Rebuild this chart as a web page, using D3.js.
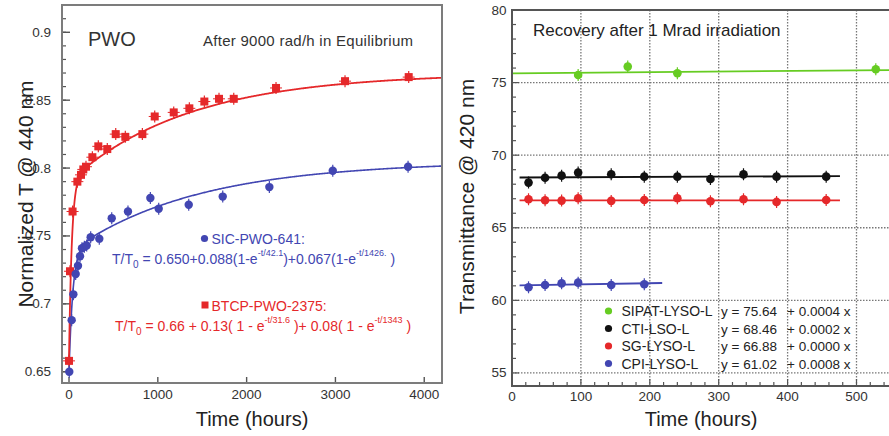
<!DOCTYPE html>
<html><head><meta charset="utf-8">
<script src="https://cdn.jsdelivr.net/npm/d3@7"></script>
<style>
html,body{margin:0;padding:0;background:#fff;}
svg{display:block;font-family:"Liberation Sans",Arial,sans-serif;}
</style></head>
<body>
<svg id="chart" width="889" height="436"></svg>
<script>
// ---------- Left panel data (PWO) ----------
const btcpTime = [0, 11, 40, 94, 135, 161, 191, 263, 330, 431, 526, 634, 826, 965, 1179, 1355, 1524, 1689, 1855, 2331, 3108, 3825];
const btcpValue = [0.658, 0.724, 0.768, 0.790, 0.795, 0.799, 0.801, 0.808, 0.816, 0.814, 0.825, 0.823, 0.825, 0.838, 0.841, 0.844, 0.849, 0.851, 0.851, 0.859, 0.864, 0.867];
const sicTime = [3, 30, 49, 75, 101, 124, 146, 173, 199, 244, 341, 481, 664, 916, 1010, 1348, 1731, 2256, 2970, 3818];
const sicValue = [0.650, 0.688, 0.707, 0.722, 0.728, 0.735, 0.741, 0.742, 0.743, 0.749, 0.748, 0.763, 0.768, 0.778, 0.770, 0.773, 0.779, 0.786, 0.798, 0.801];
// fit parameters printed on the chart: a + b(1-e^{-t/tau1}) + c(1-e^{-t/tau2})
const sicFitParams = [0.650, 0.088, 42.1, 0.067, 1426];
const btcpFitParams = [0.66, 0.13, 31.6, 0.08, 1343];
const leftXTicks = [0, 1000, 2000, 3000, 4000];
const leftYTicks = [0.65, 0.7, 0.75, 0.8, 0.85, 0.9];
const leftYTickLabels = ["0.65", "0.7", "0.75", "0.8", "0.85", "0.9"];

// ---------- Right panel data (LYSO) ----------
const sipatTime = [96, 168, 240, 528];
const sipatValue = [75.52, 76.10, 75.64, 75.92];
const ctiTime = [24, 48, 72, 96, 144, 192, 240, 288, 336, 384, 456];
const ctiValue = [68.11, 68.45, 68.59, 68.80, 68.69, 68.52, 68.52, 68.36, 68.68, 68.52, 68.52];
const sgTime = [24, 48, 72, 96, 144, 192, 240, 288, 336, 384, 456];
const sgValue = [66.96, 66.89, 66.87, 67.03, 66.85, 66.91, 67.03, 66.83, 66.96, 66.78, 66.91];
const cpiTime = [24, 48, 72, 96, 144, 192];
const cpiValue = [60.90, 61.06, 61.17, 61.22, 61.06, 61.11];
const legendNames = ["SIPAT-LYSO-L", "CTI-LSO-L", "SG-LYSO-L", "CPI-LYSO-L"];
const fitIntercepts = [75.64, 68.46, 66.88, 61.02];
const fitSlopes = [0.0004, 0.0002, 0.0000, 0.0008];
const fitStart = [0, 11, 11, 11];
const fitEnd = [560, 476, 476, 218];
const rightXTicks = [0, 100, 200, 300, 400, 500];
const rightYTicks = [55, 60, 65, 70, 75, 80];

const RED = "#e5282a", BLUE = "#4246b2", GREEN = "#66cc22", BLACK = "#111111";
const svg = d3.select("#chart");

// ======================= LEFT PANEL =======================
const L = {x0: 62, x1: 442, y0: 5, y1: 383};
const xL = d3.scaleLinear().domain([-79, 4200]).range([L.x0, L.x1]);
const yL = d3.scaleLinear().domain([0.6417, 0.9201]).range([L.y1, L.y0]);

svg.append("clipPath").attr("id", "clipL").append("rect")
  .attr("x", L.x0).attr("y", L.y0).attr("width", L.x1 - L.x0).attr("height", L.y1 - L.y0);

// ticks (inside)
const gL = svg.append("g");
gL.selectAll(".yminor").data(d3.range(0.65, 0.921, 0.01)).join("line")
  .attr("x1", L.x0).attr("x2", L.x0 + 4)
  .attr("y1", d => yL(d)).attr("y2", d => yL(d))
  .attr("stroke", "#555").attr("stroke-width", 1.2);
gL.selectAll(".ymajor").data(leftYTicks).join("line")
  .attr("x1", L.x0).attr("x2", L.x0 + 8)
  .attr("y1", d => yL(d)).attr("y2", d => yL(d))
  .attr("stroke", "#555").attr("stroke-width", 1.4);
gL.selectAll(".ylab").data(leftYTicks).join("text")
  .attr("x", L.x0 - 11).attr("y", d => yL(d) + 4.5)
  .attr("text-anchor", "end").attr("font-size", 13.5).attr("fill", "#333")
  .text((d, i) => leftYTickLabels[i]);
gL.selectAll(".xmajor").data(leftXTicks).join("line")
  .attr("x1", d => xL(d)).attr("x2", d => xL(d))
  .attr("y1", L.y1).attr("y2", L.y1 - 6)
  .attr("stroke", "#555").attr("stroke-width", 1.4);
gL.selectAll(".xlab").data(leftXTicks).join("text")
  .attr("x", d => xL(d)).attr("y", 399)
  .attr("text-anchor", "middle").attr("font-size", 13.5).attr("fill", "#333")
  .text(d => d);

// fit curves
function pwoFit(p, t) { return p[0] + p[1] * (1 - Math.exp(-t / p[2])) + p[3] * (1 - Math.exp(-t / p[4])); }
const tSamples = d3.range(0, 20, 0.5).concat(d3.range(20, 300, 2)).concat(d3.range(300, 4250, 10));
const lineL = d3.line().x(d => xL(d[0])).y(d => yL(d[1]));
const curves = svg.append("g").attr("clip-path", "url(#clipL)");
curves.append("path").datum(tSamples.map(t => [t, pwoFit(sicFitParams, t)]))
  .attr("d", lineL).attr("fill", "none").attr("stroke", BLUE).attr("stroke-width", 1.6);
curves.append("path").datum(tSamples.map(t => [t, pwoFit(btcpFitParams, t)]))
  .attr("d", lineL).attr("fill", "none").attr("stroke", RED).attr("stroke-width", 1.8);

// data points
const sicData = sicTime.map((t, i) => [t, sicValue[i]]);
const btcpData = btcpTime.map((t, i) => [t, btcpValue[i]]);
const pts = svg.append("g").attr("clip-path", "url(#clipL)");
pts.selectAll(".eb1").data(btcpData).join("line")
  .attr("x1", d => xL(d[0])).attr("x2", d => xL(d[0]))
  .attr("y1", d => yL(d[1]) - 6).attr("y2", d => yL(d[1]) + 6)
  .attr("stroke", RED).attr("stroke-width", 1.2);
pts.selectAll(".eh1").data(btcpData).join("line")
  .attr("x1", d => xL(d[0]) - 6).attr("x2", d => xL(d[0]) + 6)
  .attr("y1", d => yL(d[1])).attr("y2", d => yL(d[1]))
  .attr("stroke", RED).attr("stroke-width", 1);
pts.selectAll(".sq").data(btcpData).join("rect")
  .attr("x", d => xL(d[0]) - 4).attr("y", d => yL(d[1]) - 4)
  .attr("width", 8).attr("height", 8).attr("fill", RED);
pts.selectAll(".eb2").data(sicData).join("line")
  .attr("x1", d => xL(d[0])).attr("x2", d => xL(d[0]))
  .attr("y1", d => yL(d[1]) - 6).attr("y2", d => yL(d[1]) + 6)
  .attr("stroke", BLUE).attr("stroke-width", 1.2);
pts.selectAll(".ci").data(sicData).join("circle")
  .attr("cx", d => xL(d[0])).attr("cy", d => yL(d[1])).attr("r", 4.2).attr("fill", BLUE);

// frame
svg.append("rect").attr("x", L.x0).attr("y", L.y0).attr("width", L.x1 - L.x0).attr("height", L.y1 - L.y0)
  .attr("fill", "none").attr("stroke", "#7c7c7c").attr("stroke-width", 2);

// texts
svg.append("text").attr("x", 88).attr("y", 46).attr("font-size", 20).attr("fill", "#333").text("PWO");
svg.append("text").attr("x", 203).attr("y", 46).attr("font-size", 15).attr("fill", "#333").attr("textLength", 210)
  .text("After 9000 rad/h in Equilibrium");

svg.append("circle").attr("cx", 204.5).attr("cy", 238.5).attr("r", 3.6).attr("fill", BLUE);
svg.append("text").attr("x", 211.5).attr("y", 243.5).attr("font-size", 14).attr("fill", BLUE).text("SIC-PWO-641:");
function eq(x, y, color, parts) {
  const t = svg.append("text").attr("x", x).attr("y", y).attr("font-size", 14).attr("fill", color);
  parts.forEach(p => {
    const s = t.append("tspan").text(p[0]);
    if (p[1] === "sub") s.attr("font-size", 10).attr("dy", 4);
    else if (p[1] === "sup") s.attr("font-size", 9).attr("dy", -8);
    else if (p[1] === "resetSub") s.attr("dy", -4);
    else if (p[1] === "resetSup") s.attr("dy", 8);
  });
  return t;
}
eq(112, 264, BLUE, [["T/T"], ["0", "sub"], [" = 0.650+0.088(1-e", "resetSub"], ["-t/42.1", "sup"],
  [")+0.067(1-e", "resetSup"], ["-t/1426.", "sup"], [" )", "resetSup"]]);

svg.append("rect").attr("x", 201.5).attr("y", 301.5).attr("width", 7).attr("height", 7).attr("fill", RED);
svg.append("text").attr("x", 211.5).attr("y", 311).attr("font-size", 14).attr("fill", RED).text("BTCP-PWO-2375:");
eq(115, 331, RED, [["T/T"], ["0", "sub"], [" = 0.66 + 0.13( 1 - e", "resetSub"], ["-t/31.6", "sup"],
  [" )+ 0.08( 1 - e", "resetSup"], ["-t/1343", "sup"], [" )", "resetSup"]]);

svg.append("text").attr("transform", "translate(33,194) rotate(-90)").attr("text-anchor", "middle")
  .attr("font-size", 21).attr("fill", "#222").text("Normalized T @ 440 nm");
svg.append("text").attr("x", 252).attr("y", 426).attr("text-anchor", "middle")
  .attr("font-size", 20).attr("fill", "#222").text("Time (hours)");

// ======================= RIGHT PANEL =======================
const R = {x0: 512, y0: 10, y1: 386};
const xR = d3.scaleLinear().domain([0, 560]).range([R.x0, R.x0 + 560 * 0.689]);
const yR = d3.scaleLinear().domain([54.1, 80]).range([R.y1, R.y0]);
const R_x1 = xR(560);

svg.append("clipPath").attr("id", "clipR").append("rect")
  .attr("x", R.x0).attr("y", R.y0).attr("width", R_x1 - R.x0).attr("height", R.y1 - R.y0);

const gR = svg.append("g");
// grid
gR.selectAll(".vg").data(rightXTicks.filter(d => d > 0)).join("line")
  .attr("x1", d => xR(d)).attr("x2", d => xR(d)).attr("y1", R.y0).attr("y2", R.y1)
  .attr("stroke", "#777").attr("stroke-width", 1.3).attr("stroke-dasharray", "1.5,1.5");
gR.selectAll(".hg").data(rightYTicks.filter(d => d < 80)).join("line")
  .attr("x1", R.x0).attr("x2", R_x1).attr("y1", d => yR(d)).attr("y2", d => yR(d))
  .attr("stroke", "#777").attr("stroke-width", 1.3).attr("stroke-dasharray", "1.5,1.5");
// ticks
gR.selectAll(".ymin").data(d3.range(55, 80, 1)).join("line")
  .attr("x1", R.x0).attr("x2", d => R.x0 + (d % 5 === 0 ? 7 : 4))
  .attr("y1", d => yR(d)).attr("y2", d => yR(d)).attr("stroke", "#555").attr("stroke-width", 1.2);
gR.selectAll(".xmin").data(d3.range(20, 560, 20)).join("line")
  .attr("x1", d => xR(d)).attr("x2", d => xR(d))
  .attr("y1", R.y1).attr("y2", d => R.y1 - (d % 100 === 0 ? 7 : 4)).attr("stroke", "#555").attr("stroke-width", 1.2);
gR.selectAll(".ylab").data(rightYTicks).join("text")
  .attr("x", R.x0 - 5.5).attr("y", d => yR(d) + 4.5).attr("text-anchor", "end")
  .attr("font-size", 13.5).attr("fill", "#333").text(d => d);
gR.selectAll(".xlab").data(rightXTicks).join("text")
  .attr("x", d => xR(d)).attr("y", 401).attr("text-anchor", "middle")
  .attr("font-size", 13.5).attr("fill", "#333").text(d => d);

const seriesColors = [GREEN, BLACK, RED, BLUE];
const seriesData = [
  sipatTime.map((t, i) => [t, sipatValue[i]]),
  ctiTime.map((t, i) => [t, ctiValue[i]]),
  sgTime.map((t, i) => [t, sgValue[i]]),
  cpiTime.map((t, i) => [t, cpiValue[i]])
];
const plotR = svg.append("g").attr("clip-path", "url(#clipR)");
const lineR = d3.line().x(d => xR(d[0])).y(d => yR(d[1]));
seriesData.forEach((data, k) => {
  const fitPts = [fitStart[k], fitEnd[k]].map(t => [t, fitIntercepts[k] + fitSlopes[k] * t]);
  plotR.append("path").datum(fitPts).attr("d", lineR).attr("fill", "none")
    .attr("stroke", seriesColors[k]).attr("stroke-width", 1.8);
  plotR.selectAll(".eb" + k).data(data).join("line")
    .attr("x1", d => xR(d[0])).attr("x2", d => xR(d[0]))
    .attr("y1", d => yR(d[1]) - 6).attr("y2", d => yR(d[1]) + 6)
    .attr("stroke", seriesColors[k]).attr("stroke-width", 1.2);
  plotR.selectAll(".pt" + k).data(data).join("circle")
    .attr("cx", d => xR(d[0])).attr("cy", d => yR(d[1])).attr("r", 4.3).attr("fill", seriesColors[k]);
});

svg.append("rect").attr("x", R.x0).attr("y", R.y0).attr("width", R_x1 - R.x0).attr("height", R.y1 - R.y0)
  .attr("fill", "none").attr("stroke", "#555").attr("stroke-width", 2);

svg.append("text").attr("x", 533).attr("y", 36).attr("font-size", 17).attr("fill", "#222")
  .text("Recovery after 1 Mrad irradiation");

// legend
const legY = [311, 328.5, 346, 363.5];
legendNames.forEach((name, k) => {
  svg.append("circle").attr("cx", 608.5).attr("cy", legY[k]).attr("r", 3.6).attr("fill", seriesColors[k]);
  svg.append("text").attr("x", 621.5).attr("y", legY[k] + 5).attr("font-size", 14).attr("fill", "#222").text(name);
  svg.append("text").attr("x", 721).attr("y", legY[k] + 5).attr("font-size", 13.5).attr("fill", "#222")
    .text("y = " + fitIntercepts[k].toFixed(2));
  svg.append("text").attr("x", 787).attr("y", legY[k] + 5).attr("font-size", 13.5).attr("fill", "#222")
    .text("+ " + fitSlopes[k].toFixed(4) + " x");
});

svg.append("text").attr("transform", "translate(474,196.5) rotate(-90)").attr("text-anchor", "middle")
  .attr("font-size", 21).attr("fill", "#222").text("Transmittance @ 420 nm");
svg.append("text").attr("x", 701).attr("y", 426).attr("text-anchor", "middle")
  .attr("font-size", 20).attr("fill", "#222").text("Time (hours)");
</script>
</body></html>
